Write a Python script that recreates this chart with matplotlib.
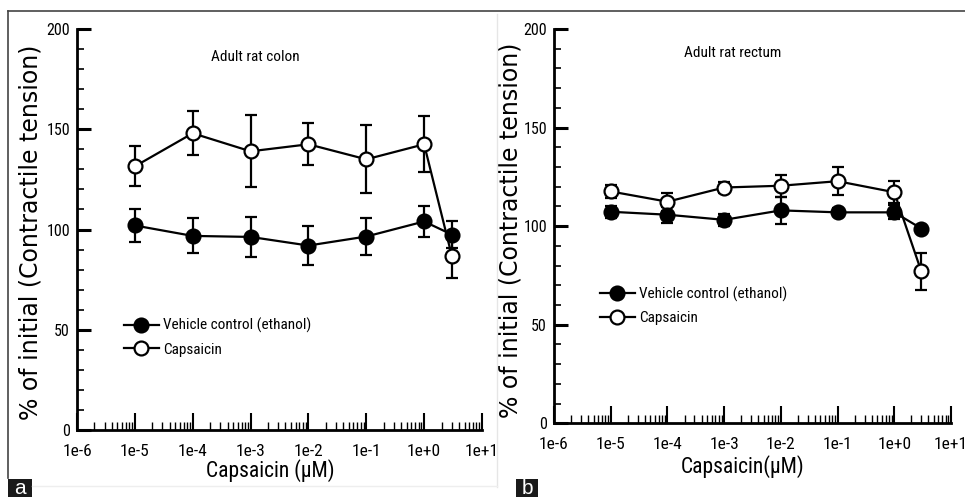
import matplotlib
matplotlib.use("Agg")
import matplotlib.pyplot as plt
from matplotlib import font_manager
from matplotlib.font_manager import FontProperties
from matplotlib.ticker import LogLocator, FixedLocator, MultipleLocator, FixedFormatter, NullFormatter
from matplotlib.patches import Rectangle
from matplotlib.lines import Line2D

# ---- find a narrow / condensed sans font if one is installed ----
prefs = ["Liberation Sans Narrow", "Roboto Condensed", "Open Sans Condensed",
         "DejaVu Sans Condensed", "Noto Sans Condensed"]
cands = []
for f in font_manager.fontManager.ttflist:
    fn = f.fname.lower()
    if ("narrow" in fn or "condensed" in fn) and \
            ("bold" not in fn and "italic" not in fn and "oblique" not in fn
             and "light" not in fn and "thin" not in fn and "medium" not in fn
             and "black" not in fn and "semibold" not in fn and "extra" not in fn):
        cands.append(f)
best = None
for pname in prefs:
    key = pname.replace(" ", "").lower()
    for f in cands:
        if key in f.fname.replace(" ", "").replace("-", "").replace("_", "").lower() \
                or f.name == pname:
            best = f.fname
            break
    if best:
        break
if best is None and cands:
    best = cands[0].fname
narrow_file = best
SCALE = 1.0 if narrow_file else 0.84


def nfp(size):
    if narrow_file:
        return FontProperties(fname=narrow_file, size=size)
    return FontProperties(family="Liberation Sans", size=size * SCALE)


# ---------------- data ----------------
conc = [1e-5, 1e-4, 1e-3, 1e-2, 1e-1, 1e0, 3.0]
xtick_vals = [1e-6, 1e-5, 1e-4, 1e-3, 1e-2, 1e-1, 1e0, 1e1]
xtick_labels = ["1e-6", "1e-5", "1e-4", "1e-3", "1e-2", "1e-1", "1e+0", "1e+1"]
ytick_vals = [0, 50, 100, 150, 200]

colon_vehicle = [102, 96.8, 96.3, 92, 96.5, 104, 97.5]
colon_vehicle_err = [8, 8.7, 10, 9.5, 9, 7.5, 6.5]
colon_caps = [131.5, 148, 139, 142.5, 135, 142.5, 87]
colon_caps_err = [10, 11, 18, 10.5, 17, 14, 11]

rectum_vehicle = [107.3, 105.8, 103.2, 108, 107, 107, 98.8]
rectum_vehicle_err = [3, 4, 3, 7, 2, 3.5, 2]
rectum_caps = [117.6, 112.4, 119.6, 120.5, 122.8, 117.2, 77]
rectum_caps_err = [3.5, 4.5, 2.8, 5.5, 7, 5.5, 9.5]

panels = [
    dict(rect=[77/965, 1-430/497, 405/965, 401/497], title="Adult rat colon",
         title_xy=(0.44, 0.93), veh=colon_vehicle, veh_err=colon_vehicle_err,
         cap=colon_caps, cap_err=colon_caps_err, xlabel="Capsaicin (µM)",
         leg=(0.115, 0.279), ylab_xy=(-0.086, 0.494), xlab_xy=(0.477, -0.072)),
    dict(rect=[554/965, 1-423.3/497, 397/965, 394.3/497], title="Adult rat rectum",
         title_xy=(0.45, 0.94), veh=rectum_vehicle, veh_err=rectum_vehicle_err,
         cap=rectum_caps, cap_err=rectum_caps_err, xlabel="Capsaicin(µM)",
         leg=(0.115, 0.346), ylab_xy=(-0.079, 0.49), xlab_xy=(0.476, -0.08)),
]

fig = plt.figure(figsize=(9.65, 4.97), dpi=100)

# decorative frame lines
fig.add_artist(Line2D([8/965, 1.0], [1-11/497, 1-11/497], color="#444444", lw=1.2))
fig.add_artist(Line2D([8/965, 8/965], [1-11/497, 1-478/497], color="#444444", lw=1.2))
fig.add_artist(Line2D([497/965, 497/965], [1-14/497, 1-487/497], color="#e6e6e6", lw=1.0))
fig.add_artist(Line2D([32/965, 497/965], [1-486/497, 1-486/497], color="#eeeeee", lw=1.0))

for p in panels:
    ax = fig.add_axes(p["rect"])
    ax.set_xscale("log")
    ax.set_xlim(1e-6, 1e1)
    ax.set_ylim(0, 200)
    for s in ["top", "right"]:
        ax.spines[s].set_visible(False)
    for s in ["left", "bottom"]:
        ax.spines[s].set_linewidth(2.0)
    kw = dict(color="black", lw=1.6, elinewidth=1.6, capsize=4.5, capthick=1.6,
              markersize=10, markeredgewidth=1.6, zorder=3)
    ax.errorbar(conc, p["cap"], yerr=p["cap_err"], fmt="-o", markerfacecolor="white",
                markeredgecolor="black", **kw)
    ax.errorbar(conc, p["veh"], yerr=p["veh_err"], fmt="-o", markerfacecolor="black",
                markeredgecolor="black", **kw)

    ax.xaxis.set_major_locator(FixedLocator(xtick_vals))
    ax.xaxis.set_major_formatter(FixedFormatter(xtick_labels))
    ax.xaxis.set_minor_locator(LogLocator(base=10, subs=range(2, 10), numticks=20))
    ax.xaxis.set_minor_formatter(NullFormatter())
    ax.yaxis.set_major_locator(FixedLocator(ytick_vals))
    ax.yaxis.set_minor_locator(MultipleLocator(10))
    ax.tick_params(axis="x", which="major", direction="in", length=12, width=1.5, pad=10)
    ax.tick_params(axis="x", which="minor", direction="in", length=6, width=1.0)
    ax.tick_params(axis="y", which="major", direction="in", length=10, width=2.2, pad=5)
    ax.tick_params(axis="y", which="minor", direction="in", length=5, width=1.2)
    for lab in ax.get_xticklabels():
        lab.set_fontproperties(nfp(12.5))
    for lab in ax.get_yticklabels():
        lab.set_fontproperties(nfp(11.5))
    ax.set_xlabel(p["xlabel"], fontproperties=nfp(15.5))
    ax.xaxis.set_label_coords(*p["xlab_xy"])
    ax.set_ylabel("% of initial (Contractile tension)", fontsize=17,
                  fontfamily="DejaVu Sans")
    ax.yaxis.set_label_coords(*p["ylab_xy"])
    ax.text(p["title_xy"][0], p["title_xy"][1], p["title"], transform=ax.transAxes,
            ha="center", va="center", fontproperties=nfp(11))
    h_veh = Line2D([], [], color="black", lw=1.6, marker="o", markersize=10,
                   markerfacecolor="black", markeredgecolor="black", markeredgewidth=1.6)
    h_cap = Line2D([], [], color="black", lw=1.6, marker="o", markersize=10,
                   markerfacecolor="white", markeredgecolor="black", markeredgewidth=1.6)
    ax.legend([h_veh, h_cap], ["Vehicle control (ethanol)", "Capsaicin"],
              loc="upper left", bbox_to_anchor=p["leg"], frameon=False,
              handlelength=2.3, handletextpad=0.3, labelspacing=0.6, borderpad=0,
              borderaxespad=0, prop=nfp(11))

# panel letters
for x0, w, letter in [(8, 24, "a"), (516, 22, "b")]:
    fig.add_artist(Rectangle((x0/965, 0), w/965, 18/497, transform=fig.transFigure,
                             facecolor="#1a1a1a", edgecolor="none"))
    fig.text((x0 + w/2)/965, 8/497, letter, color="white", ha="center", va="center",
             fontsize=15, fontfamily="Liberation Sans")

fig.savefig("out.png", dpi=100)
